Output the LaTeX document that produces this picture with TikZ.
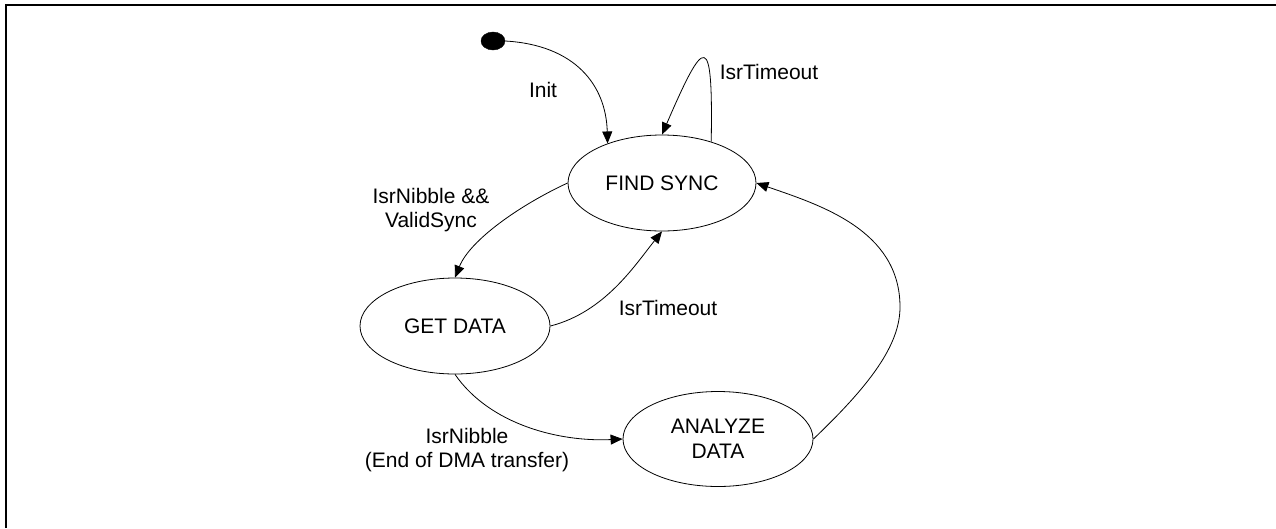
\documentclass[tikz,border=0pt]{standalone}
\usepackage{fontspec}
\setmainfont{Liberation Sans}
\usetikzlibrary{shapes.geometric,arrows.meta}
\begin{document}
\begin{tikzpicture}[x=1pt,y=-1pt,
  state/.style={draw, ellipse, line width=0.8pt, inner sep=0pt,
    minimum width=188pt, minimum height=96pt,
    font=\fontsize{21}{24.5}\selectfont, align=center},
  lbl/.style={font=\fontsize{21}{24.5}\selectfont, align=center, inner sep=0pt},
  trans/.style={draw, line width=0.8pt, -{Triangle[length=12pt,width=10pt]}},
  frame/.style={line width=2pt, black}]
\useasboundingbox (0,0) rectangle (1276,528);
\draw[frame] (5.8,528) -- (5.8,4.8) -- (1276,4.8);

\node[fill=black, draw=black, ellipse, minimum width=24pt, minimum height=18pt, inner sep=0pt] (init) at (493,41) {};
\node[state] (fs) at (662,183) {FIND SYNC};
\node[state, minimum width=190pt] (gd) at (455,326) {GET DATA};
\node[state, minimum width=190pt, minimum height=95pt] (ad) at (718,439) {ANALYZE\\DATA};
\coordinate (bend) at (900,307);

\draw[trans] (init.east) .. controls (575,45) and (606,85) .. (fs.144);
\draw[trans] (fs.40) .. controls (713,30) and (705,35) .. (fs.north);
\draw[trans] (fs.west) .. controls (520,205) and (470,240) .. (gd.north);
\draw[trans] (gd.east) .. controls (605,312) and (635,265) .. (fs.south);
\draw[trans] (gd.south) .. controls (490,425) and (560,442) .. (ad.west);
\draw[trans] (ad.east) .. controls (870,385) and (900,345) .. (bend)
  .. controls (900,230) and (820,205) .. (fs.east);

\node[lbl] (linit) at (543,90) {Init};
\node[lbl] (lloop) at (769,72) {IsrTimeout};
\node[lbl] (lsync) at (431,210) {IsrNibble \&\&\\ValidSync};
\node[lbl] (lto) at (668,308) {IsrTimeout};
\node[lbl] (ldma) at (467,450) {IsrNibble\\(End of DMA transfer)};
\end{tikzpicture}
\end{document}
